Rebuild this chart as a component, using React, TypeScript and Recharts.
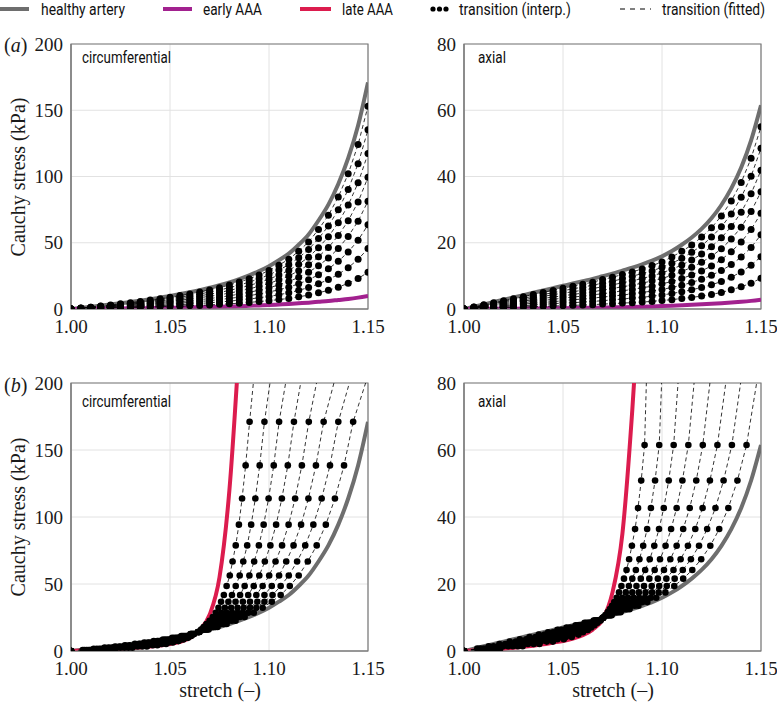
import React from 'react';
import { LineChart, Line, XAxis, YAxis, CartesianGrid, ReferenceArea } from 'recharts';

// ---------- data ----------
const STRETCH = [1.000, 1.005, 1.010, 1.015, 1.020, 1.025, 1.030, 1.035, 1.040, 1.045, 1.050, 1.055, 1.060, 1.065, 1.070, 1.075, 1.080, 1.085, 1.090, 1.095, 1.100, 1.105, 1.110, 1.115, 1.120, 1.125, 1.130, 1.135, 1.140, 1.145, 1.150];
const X_TICKS = [1.0, 1.05, 1.1, 1.15];
const CIRC_TICKS = [0, 50, 100, 150, 200];
const AXIAL_TICKS = [0, 20, 40, 60, 80];

const healthyCirc = [0, 0.8, 1.6, 2.5, 3.4, 4.3, 5.3, 6.3, 7.4, 8.6, 9.8, 11.2, 12.6, 14.2, 16.0, 17.9, 20.1, 22.6, 25.4, 28.6, 32.3, 36.8, 41.8, 48.5, 56.3, 66.8, 78.8, 94.3, 113.8, 138.5, 171.0];
const earlyCirc = [0, 0.05, 0.1, 0.2, 0.3, 0.4, 0.5, 0.6, 0.7, 0.8, 0.9, 1.0, 1.2, 1.3, 1.5, 1.7, 1.9, 2.1, 2.4, 2.7, 3.0, 3.4, 3.8, 4.3, 4.8, 5.4, 6.0, 6.8, 7.6, 8.6, 9.8];
const healthyAxial = [0, 0.7, 1.4, 2.1, 2.8, 3.5, 4.2, 4.9, 5.6, 6.3, 7.0, 7.7, 8.4, 9.1, 9.9, 10.7, 11.6, 12.5, 13.5, 14.6, 15.9, 17.5, 19.4, 21.6, 24.2, 27.4, 31.4, 36.4, 42.7, 50.9, 61.5];
const earlyAxial = [0, 0.02, 0.04, 0.06, 0.08, 0.1, 0.12, 0.15, 0.18, 0.21, 0.25, 0.29, 0.33, 0.38, 0.43, 0.49, 0.55, 0.62, 0.7, 0.79, 0.89, 1.0, 1.12, 1.25, 1.4, 1.56, 1.74, 1.94, 2.17, 2.45, 2.8];

const lateCircX = [1.000, 1.005, 1.010, 1.015, 1.020, 1.025, 1.030, 1.035, 1.040, 1.045, 1.050, 1.055, 1.060, 1.065, 1.070, 1.075, 1.080, 1.085];
const lateCircY = [0, 0.3, 0.6, 0.9, 1.3, 1.7, 2.2, 2.7, 3.3, 4.1, 5.2, 6.8, 9.6, 15.5, 27, 55, 120, 230];
const lateAxialX = [1.000, 1.005, 1.010, 1.015, 1.020, 1.025, 1.030, 1.035, 1.040, 1.045, 1.050, 1.055, 1.060, 1.065, 1.070, 1.075, 1.080, 1.085, 1.0875];
const lateAxialY = [0, 0.15, 0.3, 0.5, 0.7, 0.95, 1.25, 1.6, 2.0, 2.5, 3.0, 3.7, 4.7, 6.4, 9.4, 17.5, 35, 72, 95];

// (a) transition stresses at each stretch of STRETCH
const transCircTop = [
  [0, 0.1, 0.3, 0.5, 0.6, 0.8, 1.0, 1.2, 1.4, 1.7, 1.9, 2.1, 2.5, 2.7, 3.1, 3.5, 3.9, 4.4, 5.0, 5.6, 6.3, 7.1, 8.0, 9.2, 10.5, 12.2, 14.1, 16.5, 19.4, 23.0, 27.7],
  [0, 0.2, 0.4, 0.7, 1.0, 1.3, 1.6, 1.9, 2.2, 2.5, 2.9, 3.3, 3.7, 4.2, 4.7, 5.3, 5.9, 6.7, 7.5, 8.5, 9.5, 10.8, 12.2, 14.1, 16.2, 19.0, 22.2, 26.2, 31.2, 37.5, 45.6],
  [0, 0.3, 0.6, 1.0, 1.3, 1.7, 2.1, 2.5, 2.9, 3.4, 3.9, 4.4, 5.0, 5.6, 6.3, 7.1, 8.0, 8.9, 10.1, 11.3, 12.8, 14.5, 16.5, 19.0, 22.0, 25.9, 30.3, 36.0, 43.0, 51.9, 63.5],
  [0, 0.4, 0.8, 1.2, 1.7, 2.1, 2.6, 3.1, 3.7, 4.3, 4.9, 5.5, 6.3, 7.0, 7.9, 8.9, 10.0, 11.2, 12.6, 14.2, 16.0, 18.2, 20.7, 23.9, 27.7, 32.7, 38.4, 45.7, 54.8, 66.3, 81.4],
  [0, 0.5, 0.9, 1.5, 2.0, 2.6, 3.2, 3.8, 4.4, 5.1, 5.8, 6.7, 7.5, 8.5, 9.6, 10.7, 12.0, 13.5, 15.2, 17.1, 19.3, 22.0, 24.9, 28.9, 33.4, 39.5, 46.4, 55.4, 66.6, 80.8, 99.4],
  [0, 0.5, 1.1, 1.7, 2.4, 3.0, 3.7, 4.4, 5.2, 6.0, 6.8, 7.8, 8.8, 9.9, 11.2, 12.5, 14.0, 15.8, 17.7, 20.0, 22.5, 25.7, 29.1, 33.8, 39.1, 46.3, 54.5, 65.1, 78.4, 95.2, 117.3],
  [0, 0.6, 1.3, 2.0, 2.7, 3.4, 4.2, 5.0, 5.9, 6.9, 7.8, 8.9, 10.1, 11.3, 12.8, 14.3, 16.1, 18.0, 20.3, 22.8, 25.8, 29.4, 33.4, 38.7, 44.9, 53.2, 62.6, 74.9, 90.2, 109.6, 135.2],
  [0, 0.7, 1.4, 2.2, 3.1, 3.9, 4.8, 5.7, 6.7, 7.7, 8.8, 10.1, 11.3, 12.8, 14.4, 16.1, 18.1, 20.3, 22.8, 25.7, 29.0, 33.1, 37.6, 43.6, 50.6, 60.0, 70.7, 84.6, 102.0, 124.1, 153.1],
];
const transAxialTop = [
  [0, 0.1, 0.2, 0.3, 0.4, 0.5, 0.6, 0.7, 0.8, 0.9, 1.0, 1.1, 1.2, 1.3, 1.5, 1.6, 1.8, 1.9, 2.1, 2.3, 2.6, 2.8, 3.2, 3.5, 3.9, 4.4, 5.0, 5.8, 6.7, 7.8, 9.3],
  [0, 0.2, 0.3, 0.5, 0.7, 0.9, 1.0, 1.2, 1.4, 1.6, 1.8, 1.9, 2.1, 2.3, 2.5, 2.8, 3.0, 3.3, 3.5, 3.9, 4.2, 4.7, 5.2, 5.8, 6.5, 7.3, 8.3, 9.6, 11.2, 13.2, 15.8],
  [0, 0.2, 0.5, 0.7, 1.0, 1.2, 1.5, 1.7, 2.0, 2.2, 2.5, 2.8, 3.0, 3.3, 3.6, 3.9, 4.2, 4.6, 5.0, 5.4, 5.9, 6.5, 7.2, 8.0, 9.0, 10.2, 11.6, 13.4, 15.7, 18.6, 22.4],
  [0, 0.3, 0.6, 1.0, 1.3, 1.6, 1.9, 2.3, 2.6, 2.9, 3.3, 3.6, 3.9, 4.3, 4.6, 5.0, 5.5, 5.9, 6.4, 6.9, 7.6, 8.3, 9.2, 10.3, 11.5, 13.0, 14.9, 17.3, 20.2, 24.0, 28.9],
  [0, 0.4, 0.8, 1.2, 1.6, 2.0, 2.4, 2.8, 3.2, 3.6, 4.0, 4.4, 4.8, 5.2, 5.7, 6.2, 6.7, 7.2, 7.8, 8.5, 9.2, 10.2, 11.3, 12.6, 14.1, 15.9, 18.2, 21.1, 24.7, 29.4, 35.4],
  [0, 0.5, 0.9, 1.4, 1.9, 2.4, 2.8, 3.3, 3.8, 4.3, 4.8, 5.2, 5.7, 6.2, 6.7, 7.3, 7.9, 8.5, 9.2, 10.0, 10.9, 12.0, 13.3, 14.8, 16.6, 18.8, 21.5, 24.9, 29.2, 34.8, 41.9],
  [0, 0.5, 1.1, 1.6, 2.2, 2.7, 3.3, 3.8, 4.4, 4.9, 5.5, 6.1, 6.6, 7.2, 7.8, 8.4, 9.1, 9.9, 10.7, 11.5, 12.6, 13.8, 15.3, 17.1, 19.1, 21.7, 24.8, 28.7, 33.7, 40.1, 48.5],
  [0, 0.6, 1.3, 1.9, 2.5, 3.1, 3.7, 4.4, 5.0, 5.6, 6.3, 6.9, 7.5, 8.1, 8.9, 9.6, 10.4, 11.2, 12.1, 13.1, 14.2, 15.7, 17.4, 19.3, 21.7, 24.5, 28.1, 32.6, 38.2, 45.5, 55.0],
];

// (b) transition stretches at each stress level of the healthy curve
const transCircBottomX = [
  [1.0, 1.0059, 1.0115, 1.017, 1.0223, 1.0273, 1.0323, 1.037, 1.0418, 1.0465, 1.0511, 1.0557, 1.0603, 1.0649, 1.0695, 1.074, 1.0786, 1.0831, 1.0877, 1.0923, 1.0968, 1.1014, 1.1059, 1.1105, 1.115, 1.1196, 1.1241, 1.1287, 1.1333, 1.1379, 1.1425],
  [1.0, 1.0068, 1.0131, 1.019, 1.0246, 1.0296, 1.0345, 1.0391, 1.0436, 1.0479, 1.0523, 1.0564, 1.0606, 1.0648, 1.0689, 1.073, 1.0771, 1.0812, 1.0854, 1.0895, 1.0936, 1.0977, 1.1018, 1.1059, 1.11, 1.1142, 1.1183, 1.1224, 1.1266, 1.1308, 1.135],
  [1.0, 1.0078, 1.0146, 1.021, 1.0269, 1.032, 1.0368, 1.0411, 1.0454, 1.0494, 1.0534, 1.0571, 1.0608, 1.0646, 1.0684, 1.072, 1.0757, 1.0794, 1.0831, 1.0868, 1.0904, 1.0941, 1.0977, 1.1014, 1.1051, 1.1087, 1.1124, 1.1162, 1.1199, 1.1237, 1.1276],
  [1.0, 1.0087, 1.0161, 1.023, 1.0292, 1.0343, 1.039, 1.0432, 1.0472, 1.0509, 1.0545, 1.0578, 1.0611, 1.0645, 1.0679, 1.071, 1.0742, 1.0775, 1.0808, 1.0841, 1.0872, 1.0904, 1.0936, 1.0968, 1.1001, 1.1033, 1.1066, 1.1099, 1.1132, 1.1166, 1.1201],
  [1.0, 1.0096, 1.0177, 1.025, 1.0314, 1.0366, 1.0413, 1.0452, 1.0489, 1.0523, 1.0557, 1.0586, 1.0614, 1.0644, 1.0673, 1.07, 1.0728, 1.0756, 1.0785, 1.0813, 1.0841, 1.0868, 1.0895, 1.0923, 1.0951, 1.0979, 1.1007, 1.1036, 1.1065, 1.1095, 1.1126],
  [1.0, 1.0105, 1.0192, 1.027, 1.0337, 1.0389, 1.0435, 1.0473, 1.0507, 1.0538, 1.0568, 1.0593, 1.0617, 1.0643, 1.0668, 1.069, 1.0713, 1.0737, 1.0762, 1.0786, 1.0809, 1.0831, 1.0854, 1.0877, 1.0901, 1.0925, 1.0949, 1.0973, 1.0998, 1.1024, 1.1051],
  [1.0, 1.0115, 1.0207, 1.029, 1.036, 1.0413, 1.0458, 1.0493, 1.0525, 1.0553, 1.0579, 1.06, 1.0619, 1.0641, 1.0663, 1.068, 1.0699, 1.0719, 1.0739, 1.0759, 1.0777, 1.0795, 1.0813, 1.0832, 1.0852, 1.087, 1.089, 1.091, 1.0931, 1.0953, 1.0977],
  [1.0, 1.0124, 1.0223, 1.031, 1.0383, 1.0436, 1.048, 1.0514, 1.0543, 1.0567, 1.0591, 1.0607, 1.0622, 1.064, 1.0657, 1.067, 1.0684, 1.07, 1.0716, 1.0731, 1.0745, 1.0758, 1.0772, 1.0786, 1.0802, 1.0816, 1.0832, 1.0848, 1.0864, 1.0882, 1.0902],
];
const transAxialBottomX = [
  [1.0, 1.0067, 1.0125, 1.0179, 1.0231, 1.0282, 1.0331, 1.0378, 1.0425, 1.0472, 1.0518, 1.0564, 1.0609, 1.0655, 1.07, 1.0746, 1.0791, 1.0836, 1.0881, 1.0926, 1.0971, 1.1017, 1.1062, 1.1107, 1.1153, 1.1198, 1.1244, 1.1289, 1.1335, 1.1381, 1.1427],
  [1.0, 1.0083, 1.0149, 1.0208, 1.0262, 1.0314, 1.0361, 1.0407, 1.045, 1.0494, 1.0536, 1.0577, 1.0618, 1.066, 1.0701, 1.0741, 1.0782, 1.0822, 1.0862, 1.0902, 1.0943, 1.0983, 1.1024, 1.1064, 1.1105, 1.1146, 1.1187, 1.1228, 1.127, 1.1311, 1.1353],
  [1.0, 1.01, 1.0174, 1.0237, 1.0293, 1.0345, 1.0392, 1.0435, 1.0475, 1.0516, 1.0553, 1.0591, 1.0628, 1.0665, 1.0701, 1.0737, 1.0772, 1.0808, 1.0843, 1.0878, 1.0914, 1.095, 1.0986, 1.1022, 1.1058, 1.1094, 1.1131, 1.1168, 1.1205, 1.1242, 1.128],
  [1.0, 1.0117, 1.0198, 1.0266, 1.0324, 1.0377, 1.0422, 1.0464, 1.05, 1.0538, 1.0571, 1.0604, 1.0637, 1.067, 1.0702, 1.0732, 1.0763, 1.0794, 1.0824, 1.0854, 1.0885, 1.0917, 1.0948, 1.0979, 1.101, 1.1042, 1.1074, 1.1107, 1.114, 1.1173, 1.1206],
  [1.0, 1.0133, 1.0223, 1.0294, 1.0356, 1.0409, 1.0453, 1.0492, 1.0526, 1.0559, 1.0589, 1.0618, 1.0646, 1.0675, 1.0702, 1.0728, 1.0754, 1.0779, 1.0805, 1.0831, 1.0857, 1.0883, 1.0909, 1.0936, 1.0963, 1.099, 1.1018, 1.1046, 1.1074, 1.1103, 1.1133],
  [1.0, 1.015, 1.0247, 1.0323, 1.0387, 1.0441, 1.0483, 1.0521, 1.0551, 1.0581, 1.0607, 1.0631, 1.0655, 1.068, 1.0703, 1.0723, 1.0745, 1.0765, 1.0786, 1.0807, 1.0828, 1.085, 1.0871, 1.0893, 1.0915, 1.0938, 1.0961, 1.0985, 1.1009, 1.1034, 1.1059],
  [1.0, 1.0167, 1.0272, 1.0352, 1.0418, 1.0472, 1.0514, 1.0549, 1.0576, 1.0603, 1.0624, 1.0645, 1.0665, 1.0685, 1.0703, 1.0719, 1.0735, 1.0751, 1.0767, 1.0783, 1.0799, 1.0817, 1.0833, 1.085, 1.0868, 1.0886, 1.0905, 1.0925, 1.0944, 1.0965, 1.0986],
  [1.0, 1.0183, 1.0296, 1.0381, 1.0449, 1.0504, 1.0544, 1.0578, 1.0601, 1.0625, 1.0642, 1.0658, 1.0674, 1.069, 1.0704, 1.0714, 1.0726, 1.0737, 1.0748, 1.0759, 1.0771, 1.0783, 1.0795, 1.0808, 1.0821, 1.0834, 1.0848, 1.0864, 1.0879, 1.0895, 1.0912],
];
// fitted curves where they leave the top of the (b) panels
const fitTopCircX = [1.1488, 1.1406, 1.1328, 1.124, 1.116, 1.1084, 1.1005, 1.0921];
const fitTopCircY = 200;
const fitTopAxialX = [1.1478, 1.1397, 1.1322, 1.1242, 1.1162, 1.1081, 1.0998, 1.0921];
const fitTopAxialY = 80;

const LEGEND_LABELS = ['healthy artery', 'early AAA', 'late AAA', 'transition (interp.)', 'transition (fitted)'];

// ---------- styling ----------
const GRAY = '#6e6e6e';
const PURPLE = '#a2218f';
const RED = '#dc1c4e';
const SERIF = '"Liberation Serif", "Times New Roman", serif';
const SANS = 'Roboto, "Liberation Sans", sans-serif';

const pts = (xs: number[], ys: number[]) => xs.map((x, i) => ({ x, y: ys[i] }));

const XTick = (props: any) => {
  const { x, y, payload } = props;
  return (
    <text x={x} y={y + 3} dy="0.71em" textAnchor="middle" fill="#1a1a1a" fontFamily={SERIF} fontSize={19} style={{ fontFamily: SERIF, fontSize: 19 }}>
      {Number(payload.value).toFixed(2)}
    </text>
  );
};
const YTick = (props: any) => {
  const { x, y, payload } = props;
  return (
    <text x={x} y={y} dy="0.35em" textAnchor="end" fill="#1a1a1a" fontFamily={SERIF} fontSize={19} style={{ fontFamily: SERIF, fontSize: 19 }}>
      {payload.value}
    </text>
  );
};

type PanelCfg = {
  left: number; top: number; width: number; height: number;
  margin: { top: number; right: number; bottom: number; left: number };
  yMax: number; yTicks: number[]; dotR: number;
  curves: { data: { x: number; y: number }[]; color: string }[];
  dashed: { x: number; y: number }[][];
  dots: { x: number; y: number }[][];
};

function renderPanel(cfg: PanelCfg, key: string) {
  const dotStyle = { r: cfg.dotR, fill: '#000', stroke: '#000', strokeWidth: 0 };
  return (
    <div key={key} style={{ position: 'absolute', left: cfg.left, top: cfg.top }}>
      <LineChart width={cfg.width} height={cfg.height} margin={cfg.margin}>
        <CartesianGrid stroke="#e2e2e2" strokeWidth={1} />
        <XAxis
          type="number" dataKey="x" domain={[1, 1.15]} ticks={X_TICKS} interval={0}
          allowDataOverflow tick={<XTick />}
          tickLine={false} axisLine={{ stroke: '#7a7a7a', strokeWidth: 1.2 }} height={30}
        />
        <YAxis
          type="number" domain={[0, cfg.yMax]} ticks={cfg.yTicks} interval={0}
          allowDataOverflow tick={<YTick />} tickLine={false}
          axisLine={{ stroke: '#7a7a7a', strokeWidth: 1.2 }} width={60}
        />
        {cfg.curves.map((c, i) => (
          <Line key={'c' + i} data={c.data} dataKey="y" type="monotone" stroke={c.color}
            strokeWidth={4} dot={false} activeDot={false} isAnimationActive={false} />
        ))}
        {cfg.dashed.map((d, i) => (
          <Line key={'d' + i} data={d} dataKey="y" type="linear" stroke="#000"
            strokeWidth={0.8} strokeDasharray="4 3" dot={false} activeDot={false} isAnimationActive={false} />
        ))}
        {cfg.dots.map((d, i) => (
          <Line key={'p' + i} data={d} dataKey="y" type="linear" stroke="none"
            dot={dotStyle} activeDot={false} isAnimationActive={false} />
        ))}
        <ReferenceArea x1={1} x2={1.15} y1={0} y2={cfg.yMax} fill="none" fillOpacity={0}
          stroke="#7a7a7a" strokeWidth={1.2} />
      </LineChart>
    </div>
  );
}

// text drawn narrow (condensed look) with exact width
const NarrowText = ({ x, y, w, children }: { x: number; y: number; w: number; children: string }) => (
  <g transform={`translate(${x},${y}) scale(0.78,1)`}>
    <text x={0} y={0} textLength={w / 0.78} lengthAdjust="spacingAndGlyphs"
      style={{ fontFamily: SANS, fontSize: 17, fill: '#111' }}>{children}</text>
  </g>
);

export default function App() {
  const topCirc: PanelCfg = {
    left: 0, top: 0, width: 395, height: 340, margin: { top: 44, right: 27, bottom: 1, left: 11 },
    yMax: 200, yTicks: CIRC_TICKS, dotR: 3.5,
    curves: [{ data: pts(STRETCH, healthyCirc), color: GRAY }, { data: pts(STRETCH, earlyCirc), color: PURPLE }],
    dashed: transCircTop.map((s) => pts(STRETCH, s)),
    dots: transCircTop.map((s) => pts(STRETCH, s)),
  };
  const topAxial: PanelCfg = {
    left: 390, top: 0, width: 387, height: 340, margin: { top: 44, right: 16, bottom: 1, left: 14 },
    yMax: 80, yTicks: AXIAL_TICKS, dotR: 3.5,
    curves: [{ data: pts(STRETCH, healthyAxial), color: GRAY }, { data: pts(STRETCH, earlyAxial), color: PURPLE }],
    dashed: transAxialTop.map((s) => pts(STRETCH, s)),
    dots: transAxialTop.map((s) => pts(STRETCH, s)),
  };
  const botCirc: PanelCfg = {
    left: 0, top: 340, width: 395, height: 345, margin: { top: 43, right: 27, bottom: 4, left: 11 },
    yMax: 200, yTicks: CIRC_TICKS, dotR: 3.3,
    curves: [{ data: pts(STRETCH, healthyCirc), color: GRAY }, { data: pts(lateCircX, lateCircY), color: RED }],
    dashed: transCircBottomX.map((xs, k) => pts([...xs, fitTopCircX[k]], [...healthyCirc, fitTopCircY])),
    dots: transCircBottomX.map((xs) => pts(xs, healthyCirc)),
  };
  const botAxial: PanelCfg = {
    left: 390, top: 340, width: 387, height: 345, margin: { top: 43, right: 16, bottom: 4, left: 14 },
    yMax: 80, yTicks: AXIAL_TICKS, dotR: 3.3,
    curves: [{ data: pts(STRETCH, healthyAxial), color: GRAY }, { data: pts(lateAxialX, lateAxialY), color: RED }],
    dashed: transAxialBottomX.map((xs, k) => pts([...xs, fitTopAxialX[k]], [...healthyAxial, fitTopAxialY])),
    dots: transAxialBottomX.map((xs) => pts(xs, healthyAxial)),
  };

  const ylabel = (top: number) => (
    <div style={{ position: 'absolute', left: 18, top, transform: 'translate(-50%, -50%) rotate(-90deg)', fontFamily: SERIF, fontSize: 20, color: '#1a1a1a', whiteSpace: 'nowrap' }}>
      Cauchy stress (kPa)
    </div>
  );
  const xlabel = (left: number) => (
    <div style={{ position: 'absolute', left, top: 690, transform: 'translate(-50%, -50%)', fontFamily: SERIF, fontSize: 20, color: '#1a1a1a', whiteSpace: 'nowrap' }}>
      stretch (–)
    </div>
  );
  const panelLabel = (letter: string, top: number) => (
    <div style={{ position: 'absolute', left: 4, top, fontFamily: SERIF, fontSize: 20, color: '#1a1a1a', lineHeight: '24px' }}>
      (<i>{letter}</i>)
    </div>
  );

  return (
    <div style={{ position: 'absolute', left: 0, top: 0, width: 777, height: 707, background: '#fff', overflow: 'hidden' }}>
      {renderPanel(topCirc, 'tc')}
      {renderPanel(topAxial, 'ta')}
      {renderPanel(botCirc, 'bc')}
      {renderPanel(botAxial, 'ba')}
      <svg width={777} height={707} style={{ position: 'absolute', left: 0, top: 0, pointerEvents: 'none' }}>
        <line x1={0} x2={29} y1={9} y2={9} stroke={GRAY} strokeWidth={4} />
        <NarrowText x={41} y={15} w={84}>{LEGEND_LABELS[0]}</NarrowText>
        <line x1={163} x2={192} y1={9} y2={9} stroke={PURPLE} strokeWidth={4} />
        <NarrowText x={203} y={15} w={59}>{LEGEND_LABELS[1]}</NarrowText>
        <line x1={300} x2={331} y1={9} y2={9} stroke={RED} strokeWidth={4} />
        <NarrowText x={342} y={15} w={51}>{LEGEND_LABELS[2]}</NarrowText>
        <circle cx={433} cy={9} r={2.6} fill="#000" />
        <circle cx={439.5} cy={9} r={2.6} fill="#000" />
        <circle cx={446} cy={9} r={2.6} fill="#000" />
        <NarrowText x={459} y={15} w={112}>{LEGEND_LABELS[3]}</NarrowText>
        <line x1={620} x2={651} y1={9} y2={9} stroke="#000" strokeWidth={1} strokeDasharray="5 5" />
        <NarrowText x={662} y={15} w={103}>{LEGEND_LABELS[4]}</NarrowText>

        <NarrowText x={82} y={63} w={89}>circumferential</NarrowText>
        <NarrowText x={478} y={63} w={28}>axial</NarrowText>
        <NarrowText x={82} y={407} w={89}>circumferential</NarrowText>
        <NarrowText x={478} y={407} w={28}>axial</NarrowText>
      </svg>
      {ylabel(177)}
      {ylabel(517)}
      {xlabel(220)}
      {xlabel(613)}
      {panelLabel('a', 33)}
      {panelLabel('b', 373)}
    </div>
  );
}
